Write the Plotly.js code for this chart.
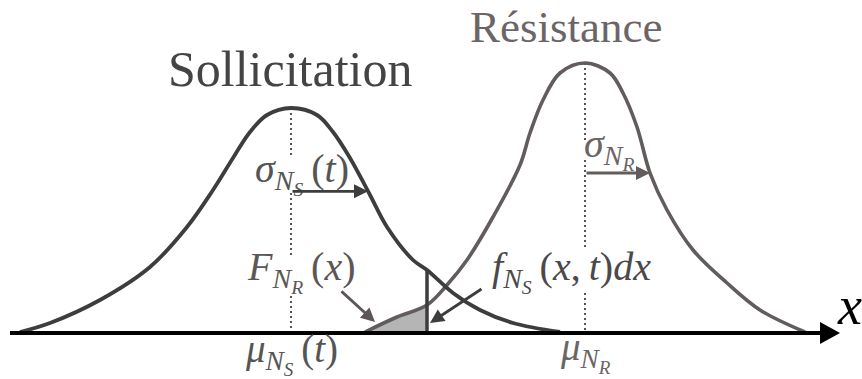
<!DOCTYPE html>
<html>
<head>
<meta charset="utf-8">
<script src="https://cdn.plot.ly/plotly-3.0.1.min.js"></script>
<style>
  html, body { margin: 0; padding: 0; background: #fff; }
  #chart { width: 862px; height: 379px; }
  #chart text, #chart tspan { font-family: 'Liberation Serif', 'Times New Roman', 'DejaVu Serif', serif !important; }
</style>
</head>
<body>
<div id="chart"></div>
<script>
// Load (sollicitation) density: x position along the axis and height above it
const sollX = [20, 50, 100, 150, 187, 213, 233, 250, 267, 291, 317, 333, 350, 370, 387, 413, 427, 453, 480, 513, 560];
const sollY = [1, 10, 33, 66, 106, 143, 175, 201, 218, 225, 218, 201, 175, 138, 106, 73, 63, 40, 23, 10, 1];

// Resistance density
const resX = [365, 397, 427, 447, 467, 493, 520, 530, 543, 560, 585, 610, 623, 637, 650, 667, 693, 727, 760, 805];
const resY = [1, 16, 28, 48, 73, 116, 168, 200, 233, 260, 270, 260, 240, 206, 160, 123, 83, 50, 23, 1];

// Standard deviations and the position of the elementary slice dx
const sigmaS = 77;
const sigmaR = 65;
const dxAt = 427;

// Axis extent
const axisStart = 10;
const axisEnd = 840;

const SOLL_COLOR = '#3d3d3d';
const RES_COLOR = '#625c5c';
const SERIF = 'Liberation Serif';
const THIN = '\u2009';

function peakX(xs, ys) {
  let k = 0;
  ys.forEach((v, i) => { if (v > ys[k]) k = i; });
  return xs[k];
}
function heightAt(xs, ys, x) {
  for (let i = 0; i < xs.length - 1; i++) {
    if (x >= xs[i] && x <= xs[i + 1]) {
      const t = (x - xs[i]) / (xs[i + 1] - xs[i]);
      return ys[i] + t * (ys[i + 1] - ys[i]);
    }
  }
  return 0;
}

const muS = peakX(sollX, sollY);
const muR = peakX(resX, resY);

// Shaded region: resistance density left of the slice
const shadeX = resX.filter(x => x <= dxAt);
const shadeY = shadeX.map(x => resY[resX.indexOf(x)]);

const traces = [
  { x: shadeX, y: shadeY, mode: 'lines', fill: 'tozeroy', fillcolor: '#b5b5b5',
    line: { width: 0, shape: 'spline', color: 'rgba(0,0,0,0)' }, hoverinfo: 'skip' },
  { x: resX, y: resY, mode: 'lines', line: { color: RES_COLOR, width: 3.6, shape: 'spline', smoothing: 1 }, hoverinfo: 'skip' },
  { x: sollX, y: sollY, mode: 'lines', line: { color: SOLL_COLOR, width: 3.8, shape: 'spline', smoothing: 1 }, hoverinfo: 'skip' },
  { x: [dxAt, dxAt], y: [0, heightAt(sollX, sollY, dxAt)], mode: 'lines',
    line: { color: SOLL_COLOR, width: 3.5 }, hoverinfo: 'skip' }
];

function dotted(x, y0, y1) {
  return { type: 'line', xref: 'x', yref: 'y', x0: x, x1: x, y0: y0, y1: y1,
           line: { color: '#555', width: 2, dash: '2px,3px' }, layer: 'below' };
}

const shapes = [
  dotted(muS, 225, 176), dotted(muS, 140, 78), dotted(muS, 37, 0),
  dotted(muR, 270, 193), dotted(muR, 173, 83), dotted(muR, 40, 0),
  { type: 'line', xref: 'x', yref: 'y', x0: axisStart, x1: axisEnd - 16, y0: 0, y1: 0,
    line: { color: '#000', width: 4 } },
  { type: 'path', xref: 'x', yref: 'y', fillcolor: '#000', line: { width: 0 },
    path: `M ${axisEnd - 20} 11 L ${axisEnd} 0 L ${axisEnd - 20} -11 Z` }
];

function arrow(x0, y0, x1, y1, color) {
  return { xref: 'x', yref: 'y', axref: 'x', ayref: 'y', x: x1, y: y1, ax: x0, ay: y0,
           text: '', showarrow: true, arrowhead: 2, arrowsize: 1, arrowwidth: 2.8,
           arrowcolor: color, standoff: 0 };
}
function label(text, x, y, size, color, xanchor) {
  return { xref: 'x', yref: 'y', x: x, y: y, text: text, showarrow: false,
           xanchor: xanchor || 'left', yanchor: 'middle',
           font: { family: SERIF, size: size, color: color } };
}

const ySigS = heightAt(sollX, sollY, muS + sigmaS);
const ySigR = heightAt(resX, resY, muR + sigmaR);

const annotations = [
  label('Sollicitation', 290, 264, 50, '#444', 'center'),
  label('Résistance', 566, 306, 45, '#6b6565', 'center'),
  label('<i>σ</i><sub><i>N</i><sub><i>S</i></sub></sub>' + THIN + '(<i>t</i>)', 253, 160, 40, '#555'),
  label('<i>σ</i><sub><i>N</i><sub><i>R</i></sub></sub>', 582, 185, 40, '#6b6565'),
  label('<i>F</i><sub><i>N</i><sub><i>R</i></sub></sub>' + THIN + '(<i>x</i>)', 245, 62, 40, '#5c5656'),
  label('<i>f</i><sub><i>N</i><sub><i>S</i></sub></sub>' + THIN + '(<i>x</i>,' + THIN + '<i>t</i>)<i>dx</i>', 490, 62, 40, '#4a4a4a'),
  label('<i>μ</i><sub><i>N</i><sub><i>S</i></sub></sub>' + THIN + '(<i>t</i>)', muS, -20, 39, '#555', 'center'),
  label('<i>μ</i><sub><i>N</i><sub><i>R</i></sub></sub>', muR, -18, 39, '#6b6565', 'center'),
  label('<i>x</i>', 849, 27, 54, '#000', 'center'),
  arrow(muS, ySigS, muS + sigmaS, ySigS, SOLL_COLOR),
  arrow(muR, ySigR, muR + sigmaR, ySigR, RES_COLOR),
  arrow(340, 43, 375, 11, '#5c5656'),
  arrow(483, 45, 430, 10, SOLL_COLOR)
];

const layout = {
  width: 862, height: 379,
  margin: { l: 0, r: 0, t: 0, b: 0 },
  paper_bgcolor: '#fff', plot_bgcolor: '#fff',
  showlegend: false,
  font: { family: SERIF },
  xaxis: { range: [0, 862], visible: false, fixedrange: true },
  yaxis: { range: [-46, 333], visible: false, fixedrange: true },
  shapes: shapes,
  annotations: annotations
};

Plotly.newPlot('chart', traces, layout, { staticPlot: true, displayModeBar: false });
</script>
</body>
</html>
